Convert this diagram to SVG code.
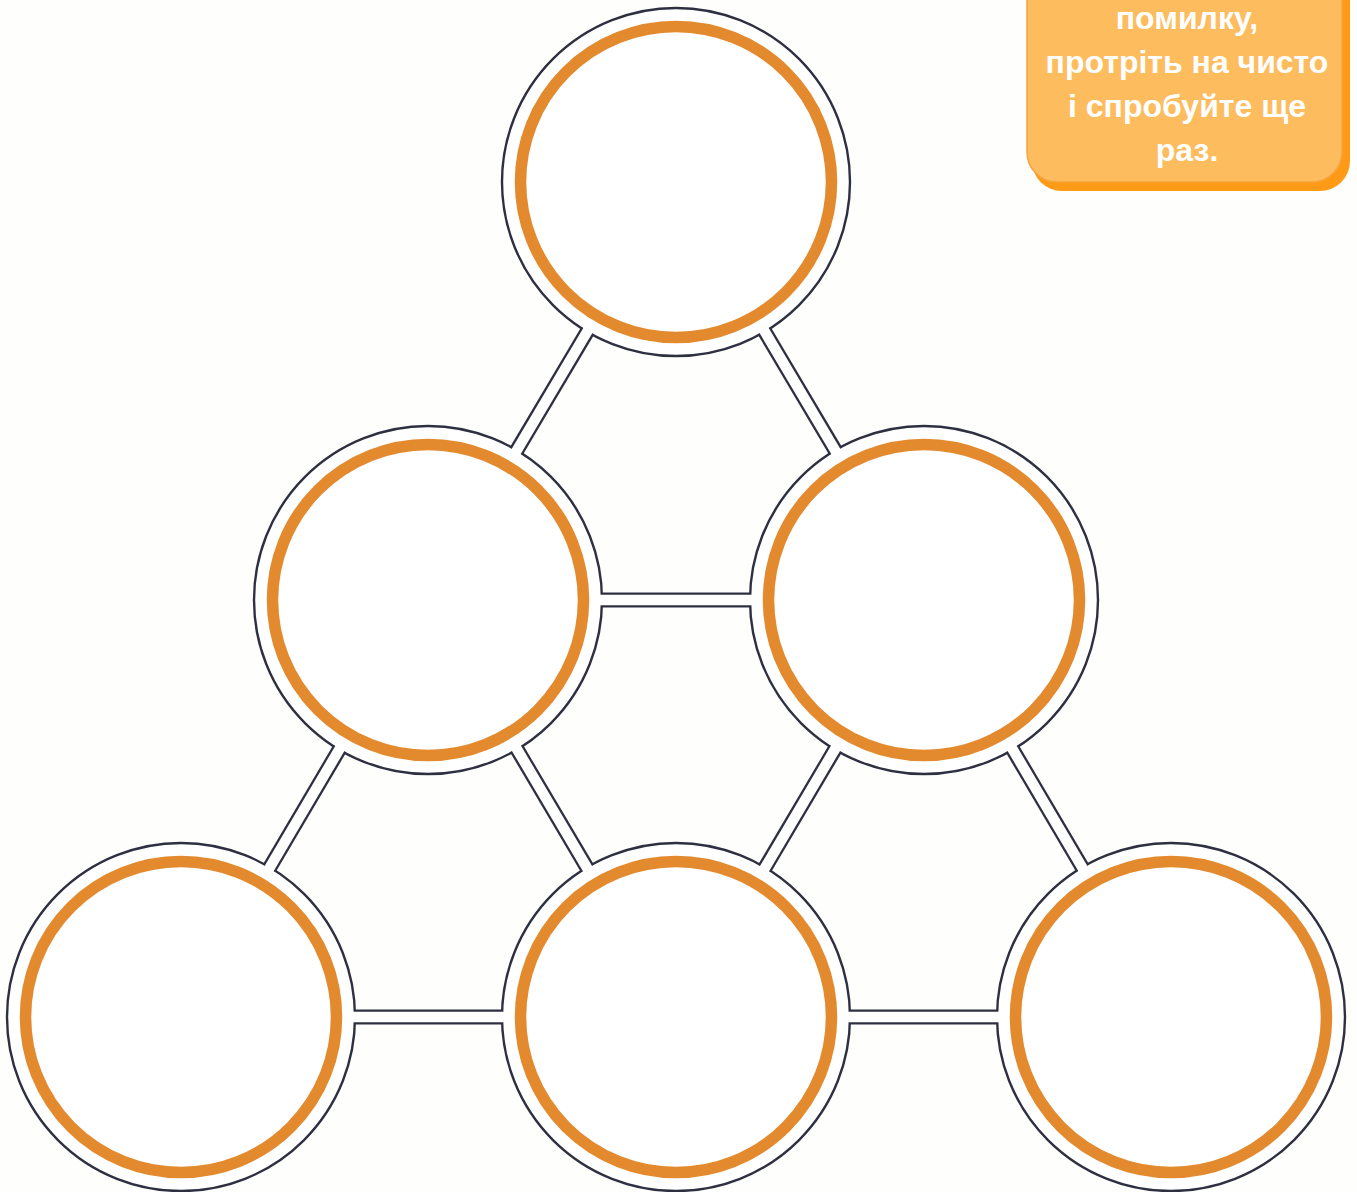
<svg xmlns="http://www.w3.org/2000/svg" width="1357" height="1192" viewBox="0 0 1357 1192">
  <style>
    .outer { fill: #FFFFFF; stroke: #2E3042; stroke-width: 2.4; }
    .ring { fill: none; stroke: #E38A2E; stroke-width: 11.5; }
    .cdark { stroke: #2E3042; stroke-width: 15; stroke-linecap: butt; fill: none; }
    .cwhite { stroke: #FFFFFF; stroke-width: 10.4; stroke-linecap: butt; fill: none; }
    .note { font-family: "Liberation Sans", Arial, sans-serif; font-weight: bold; font-size: 32px; fill: #FFFFFF; text-anchor: middle; }
  </style>
  <rect width="1357" height="1192" fill="#FEFEFC"/>

  <g id="node-top">
    <circle class="outer" cx="676" cy="182" r="174"/>
    <circle class="ring" cx="676" cy="182" r="155.5"/>
  </g>
  <g id="node-mid-left">
    <circle class="outer" cx="428" cy="600" r="174"/>
    <circle class="ring" cx="428" cy="600" r="155.5"/>
  </g>
  <g id="node-mid-right">
    <circle class="outer" cx="924" cy="600" r="174"/>
    <circle class="ring" cx="924" cy="600" r="155.5"/>
  </g>
  <g id="node-bottom-left">
    <circle class="outer" cx="181" cy="1017" r="174"/>
    <circle class="ring" cx="181" cy="1017" r="155.5"/>
  </g>
  <g id="node-bottom-middle">
    <circle class="outer" cx="676" cy="1017" r="174"/>
    <circle class="ring" cx="676" cy="1017" r="155.5"/>
  </g>
  <g id="node-bottom-right">
    <circle class="outer" cx="1171" cy="1017" r="174"/>
    <circle class="ring" cx="1171" cy="1017" r="155.5"/>
  </g>

  <g id="connectors">
    <line class="cdark" x1="587.7" y1="330.8" x2="516.3" y2="451.2"/>
    <line class="cwhite" x1="589.25" y1="328.2" x2="514.75" y2="453.8"/>
    <line class="cdark" x1="764.3" y1="330.8" x2="835.7" y2="451.2"/>
    <line class="cwhite" x1="762.75" y1="328.2" x2="837.25" y2="453.8"/>
    <line class="cdark" x1="601" y1="600" x2="751" y2="600"/>
    <line class="cwhite" x1="598" y1="600" x2="754" y2="600"/>
    <line class="cdark" x1="339.7" y1="748.8" x2="269.3" y2="868.2"/>
    <line class="cwhite" x1="341.2" y1="746.2" x2="267.8" y2="870.8"/>
    <line class="cdark" x1="516.6" y1="748.6" x2="587.4" y2="868.4"/>
    <line class="cwhite" x1="515.1" y1="746.0" x2="588.9" y2="871.0"/>
    <line class="cdark" x1="835.4" y1="748.6" x2="764.6" y2="868.4"/>
    <line class="cwhite" x1="836.9" y1="746.0" x2="763.1" y2="871.0"/>
    <line class="cdark" x1="1012.3" y1="748.8" x2="1082.7" y2="868.2"/>
    <line class="cwhite" x1="1010.8" y1="746.2" x2="1084.2" y2="870.8"/>
    <line class="cdark" x1="354" y1="1017" x2="503" y2="1017"/>
    <line class="cwhite" x1="351" y1="1017" x2="506" y2="1017"/>
    <line class="cdark" x1="849" y1="1017" x2="998" y2="1017"/>
    <line class="cwhite" x1="846" y1="1017" x2="1001" y2="1017"/>
  </g>

  <g id="note">
    <rect x="1032" y="-40" width="318" height="231" rx="30" ry="30" fill="#FF9A16"/>
    <rect x="1027" y="-40" width="315" height="222" rx="30" ry="30" fill="#FDBC5E" stroke="#F6A43C" stroke-width="1.5"/>
    <text class="note" x="1187" y="29">помилку,</text>
    <text class="note" x="1187" y="73">протріть на чисто</text>
    <text class="note" x="1187" y="117">і спробуйте ще</text>
    <text class="note" x="1187" y="161">раз.</text>
  </g>
</svg>
